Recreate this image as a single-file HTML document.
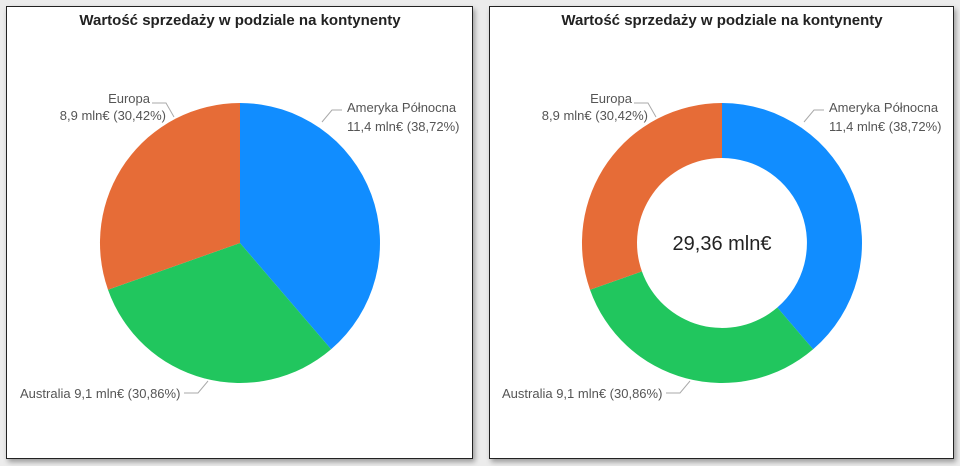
<!DOCTYPE html>
<html><head><meta charset="utf-8"><style>
body{margin:0;width:960px;height:466px;background:#ececec;overflow:hidden;font-family:"Liberation Sans","DejaVu Sans",sans-serif}
.p{position:absolute;top:6px;height:451px;background:#fff;border:1px solid #222;box-shadow:2px 3px 5px rgba(0,0,0,.35)}
svg{position:absolute;left:0;top:0}
text{font-family:"Liberation Sans","DejaVu Sans",sans-serif}
</style></head><body>
<div class="p" style="left:6px;width:465px"></div>
<div class="p" style="left:489px;width:463px"></div>
<svg width="960" height="466">
<g font-size="15" font-weight="bold" fill="#222" text-anchor="middle">
<text x="240" y="25">Wartość sprzedaży w podziale na kontynenty</text>
<text x="722" y="25">Wartość sprzedaży w podziale na kontynenty</text>
</g>
<!-- pie -->
<path d="M240,243 L240,103 A140,140 0 0 1 331.1,349.3 Z" fill="#118dff"/>
<path d="M240,243 L331.1,349.3 A140,140 0 0 1 108,289.7 Z" fill="#21c65e"/>
<path d="M240,243 L108,289.7 A140,140 0 0 1 240,103 Z" fill="#e66c37"/>
<!-- donut -->
<path d="M722,103 A140,140 0 0 1 813.1,349.3 L777.3,307.5 A85,85 0 0 0 722,158 Z" fill="#118dff"/>
<path d="M813.1,349.3 A140,140 0 0 1 590,289.7 L641.9,271.4 A85,85 0 0 0 777.3,307.5 Z" fill="#21c65e"/>
<path d="M590,289.7 A140,140 0 0 1 722,103 L722,158 A85,85 0 0 0 641.9,271.4 Z" fill="#e66c37"/>
<text x="722" y="250" font-size="20" text-anchor="middle" fill="#222">29,36 mln€</text>
<g fill="none" stroke="#aaa" stroke-width="1">
<polyline points="152,103 166,103 174,117"/>
<polyline points="342,110 332,110 322,122"/>
<polyline points="184,393 198,393 208,381"/>
<polyline points="634,103 648,103 656,117"/>
<polyline points="824,110 814,110 804,122"/>
<polyline points="666,393 680,393 690,381"/>
</g>
<g font-size="13" fill="#555">
<text x="150" y="103" text-anchor="end">Europa</text>
<text x="166" y="120" text-anchor="end">8,9 mln€ (30,42%)</text>
<text x="347" y="112">Ameryka Północna</text>
<text x="347" y="131">11,4 mln€ (38,72%)</text>
<text x="20" y="398">Australia 9,1 mln€ (30,86%)</text>
<text x="632" y="103" text-anchor="end">Europa</text>
<text x="648" y="120" text-anchor="end">8,9 mln€ (30,42%)</text>
<text x="829" y="112">Ameryka Północna</text>
<text x="829" y="131">11,4 mln€ (38,72%)</text>
<text x="502" y="398">Australia 9,1 mln€ (30,86%)</text>
</g>
</svg>
</body></html>
